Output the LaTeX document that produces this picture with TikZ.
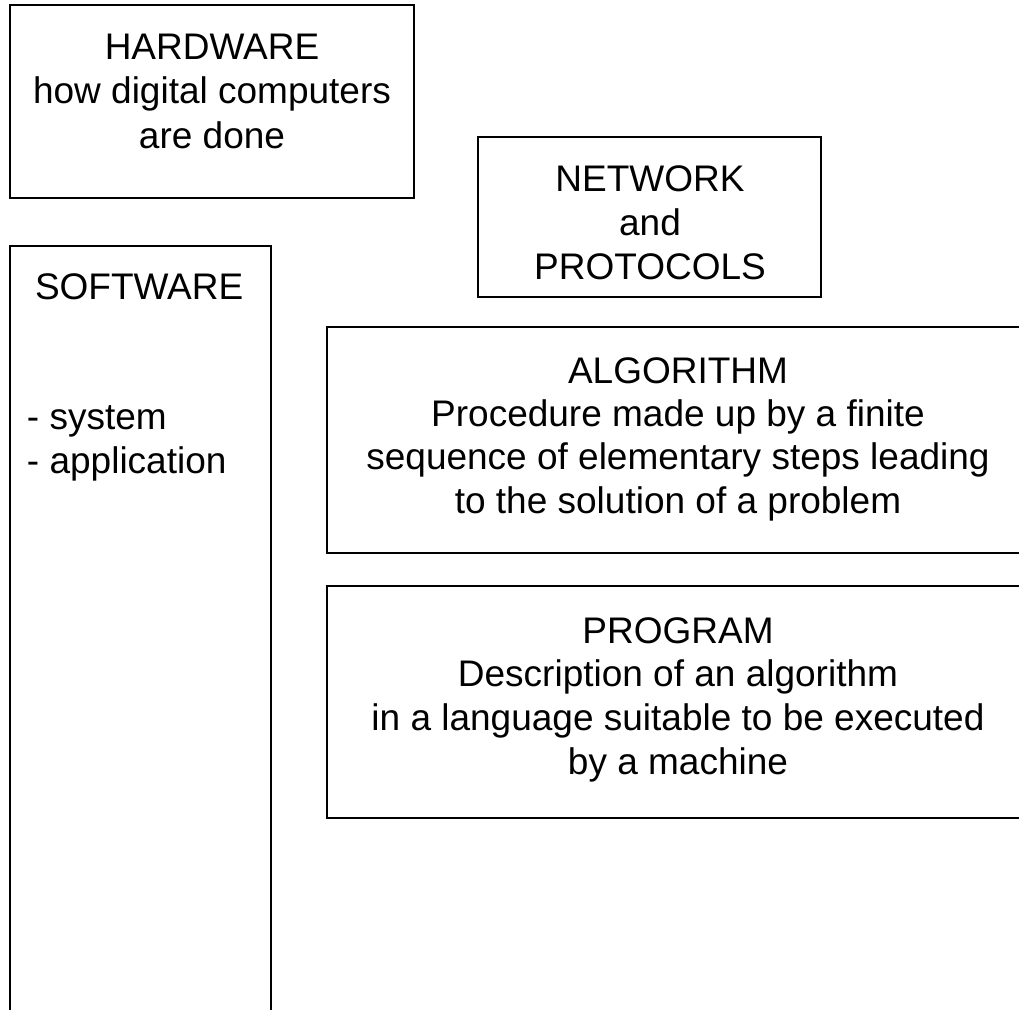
\documentclass[tikz,border=0pt]{standalone}
\usepackage{fontspec}
\setmainfont{Liberation Sans}
\usetikzlibrary{calc}
\begin{document}
\begin{tikzpicture}[x=1pt,y=-1pt,
  box/.style={draw=black,line width=1.2pt,fill=none},
  txt/.style={inner sep=0pt,outer sep=0pt,anchor=base,font=\fontsize{37}{44}\selectfont},
  ltxt/.style={txt,anchor=base west}]
\useasboundingbox[fill=white] (0,0) rectangle (1019,1009);
\clip (0,0) rectangle (1019,1009);
% boxes
\draw[box] (10,5) rectangle (414,198);
\coordinate (hw) at (212,5);
\draw[box] (478,137) rectangle (821,297);
\coordinate (net) at (650,137);
\draw[box] (10,246) rectangle (271,1030);
\coordinate (sw) at (10,246);
\draw[box] (327,327) rectangle (1030,553);
\coordinate (alg) at (678,327);
\draw[box] (327,586) rectangle (1030,818);
\coordinate (prog) at (678,586);
% hardware
\node[txt] (hw1) at ($(hw)+(0,54)$) {HARDWARE};
\node[txt] (hw2) at ($(hw)+(0,98)$) {how digital computers};
\node[txt] (hw3) at ($(hw)+(0,143)$) {are done};
% network
\node[txt] (net1) at ($(net)+(0,54)$) {NETWORK};
\node[txt] (net2) at ($(net)+(0,98)$) {and};
\node[txt] (net3) at ($(net)+(0,142)$) {PROTOCOLS};
% software
\node[ltxt] (sw1) at ($(sw)+(25,53)$) {SOFTWARE};
\node[ltxt] (sw2) at ($(sw)+(17,183)$) {- system};
\node[ltxt] (sw3) at ($(sw)+(17,227)$) {- application};
% algorithm
\node[txt] (alg1) at ($(alg)+(0,56)$) {ALGORITHM};
\node[txt] (alg2) at ($(alg)+(0,99)$) {Procedure made up by a finite};
\node[txt] (alg3) at ($(alg)+(0,142)$) {sequence of elementary steps leading};
\node[txt] (alg4) at ($(alg)+(0,186)$) {to the solution of a problem};
% program
\node[txt] (prog1) at ($(prog)+(0,57)$) {PROGRAM};
\node[txt] (prog2) at ($(prog)+(0,100)$) {Description of an algorithm};
\node[txt] (prog3) at ($(prog)+(0,144)$) {in a language suitable to be executed};
\node[txt] (prog4) at ($(prog)+(0,188)$) {by a machine};
\end{tikzpicture}
\end{document}
